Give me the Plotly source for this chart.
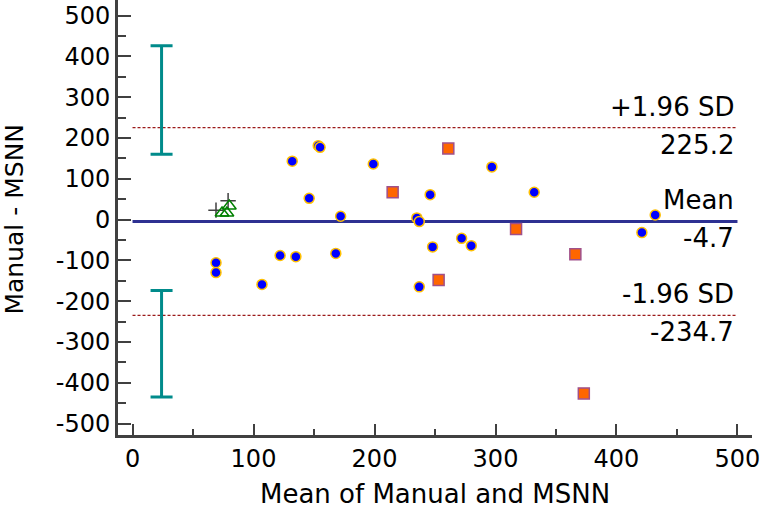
import plotly.graph_objects as go

# ---- data ----
circle_x = [69, 69, 107, 122, 135, 132, 146, 153.5, 155, 168, 172, 199, 235, 237, 237, 246, 248, 272, 280, 297, 332, 421, 432]
circle_y = [-106, -130, -159, -88, -91, 143, 52, 181, 177, -83, 8, 136, 4, -5, -165, 61, -67, -46, -64, 129, 67, -32, 11]

square_x = [215, 253, 261, 317, 366, 373]
square_y = [67, -148, 174, -23, -85, -426]

triangle_x = [74, 78, 80]
triangle_y = [16, 16, 33]

plus_x = [69, 79]
plus_y = [23, 46]

mean_diff = -4.7
upper_loa = 225.2
lower_loa = -234.7
line_x = [0, 500]

ci_x = [24, 24]
ci_low = [160, -435]
ci_high = [426, -174]

x_ticks = [0, 100, 200, 300, 400, 500]
y_ticks = [500, 400, 300, 200, 100, 0, -100, -200, -300, -400, -500]
y_tick_text = ["500", "400", "300", "200", "100", "0", "-100", "-200", "-300", "-400", "-500"]

FONT = "DejaVu Sans, sans-serif"
FS = 24

fig = go.Figure()

# limits of agreement
fig.add_trace(go.Scatter(x=line_x, y=[upper_loa, upper_loa], mode="lines",
                         line=dict(color="#9B1B1B", width=1.2, dash="3px,2px"), hoverinfo="skip"))
fig.add_trace(go.Scatter(x=line_x, y=[lower_loa, lower_loa], mode="lines",
                         line=dict(color="#9B1B1B", width=1.2, dash="3px,2px"), hoverinfo="skip"))
fig.add_trace(go.Scatter(x=line_x, y=[mean_diff, mean_diff], mode="lines",
                         line=dict(color="#2E3192", width=3), hoverinfo="skip"))

# confidence intervals of limits
ci_mid = [(a + b) / 2 for a, b in zip(ci_low, ci_high)]
fig.add_trace(go.Scatter(
    x=ci_x, y=ci_mid, mode="markers", marker=dict(size=1, color="rgba(0,0,0,0)"),
    error_y=dict(type="data", symmetric=False,
                 array=[h - m for h, m in zip(ci_high, ci_mid)],
                 arrayminus=[m - l for m, l in zip(ci_mid, ci_low)],
                 color="#008B8B", thickness=3, width=11),
    hoverinfo="skip"))

# points
fig.add_trace(go.Scatter(x=plus_x, y=plus_y, mode="markers",
                         marker=dict(symbol="cross-thin-open", size=11, color="#404040",
                                     line=dict(color="#404040", width=1.5))))
fig.add_trace(go.Scatter(x=triangle_x, y=triangle_y, mode="markers",
                         marker=dict(symbol="triangle-up-open", size=12, color="#008000",
                                     line=dict(color="#008000", width=1.5))))
fig.add_trace(go.Scatter(x=circle_x, y=circle_y, mode="markers",
                         marker=dict(symbol="circle", size=10, color="#0000FF",
                                     line=dict(color="#FFC000", width=1.5))))
fig.add_trace(go.Scatter(x=square_x, y=square_y, mode="markers",
                         marker=dict(symbol="square", size=11, color="#FF6600",
                                     line=dict(color="#A0508A", width=1.5))))

# labels
labels = [
    ("+1.96 SD", upper_loa, "bottom"), (f"{upper_loa}", upper_loa, "top"),
    ("Mean", mean_diff, "bottom"), (f"{mean_diff}", mean_diff, "top"),
    ("-1.96 SD", lower_loa, "bottom"), (f"{lower_loa}", lower_loa, "top"),
]
for txt, yv, anchor in labels:
    fig.add_annotation(x=500, y=yv, xref="x", yref="y", text=txt, showarrow=False,
                       xanchor="right", yanchor=anchor, xshift=-1,
                       yshift=4 if anchor == "bottom" else 0,
                       font=dict(family=FONT, size=26, color="black"))

# axis titles
fig.add_annotation(x=0, y=0, xref="paper", yref="y", text="Manual - MSNN", showarrow=False,
                   textangle=-90, xanchor="center", yanchor="middle", xshift=-103,
                   font=dict(family=FONT, size=25, color="black"))
fig.add_annotation(x=0.5, y=0, xref="paper", yref="paper", text="Mean of Manual and MSNN",
                   showarrow=False, xanchor="center", yanchor="middle", yshift=-59,
                   font=dict(family=FONT, size=26, color="black"))

fig.update_layout(
    width=762, height=516,
    margin=dict(l=118, r=10, t=0, b=81),
    plot_bgcolor="white", paper_bgcolor="white",
    showlegend=False, hovermode=False,
    font=dict(family=FONT, size=FS, color="black"),
)
fig.update_xaxes(
    range=[-12, 512], tickmode="array", tickvals=x_ticks,
    showline=True, linecolor="#404040", linewidth=3, mirror=False,
    ticks="inside", ticklen=11, tickwidth=2, tickcolor="#404040",
    minor=dict(dtick=50, ticks="inside", ticklen=6, tickwidth=2, tickcolor="#404040", showgrid=False),
    showgrid=False, zeroline=False, automargin=False, ticklabeloverflow="allow",
    tickfont=dict(family=FONT, size=FS, color="black"),
)
fig.update_yaxes(
    range=[-528, 538], tickmode="array", tickvals=y_ticks, ticktext=y_tick_text,
    showline=True, linecolor="#404040", linewidth=3, mirror=False,
    ticks="inside", ticklen=13, tickwidth=2, tickcolor="#404040",
    minor=dict(dtick=50, ticks="inside", ticklen=8, tickwidth=2, tickcolor="#404040", showgrid=False),
    showgrid=False, zeroline=False, automargin=False, ticklabeloverflow="allow",
    tickfont=dict(family=FONT, size=FS, color="black"),
)

# remove the browser's default 8px body margin so the figure fills the window
fig.write_html("out.html", config={"displayModeBar": False},
               post_script="document.body.style.margin='0';")
